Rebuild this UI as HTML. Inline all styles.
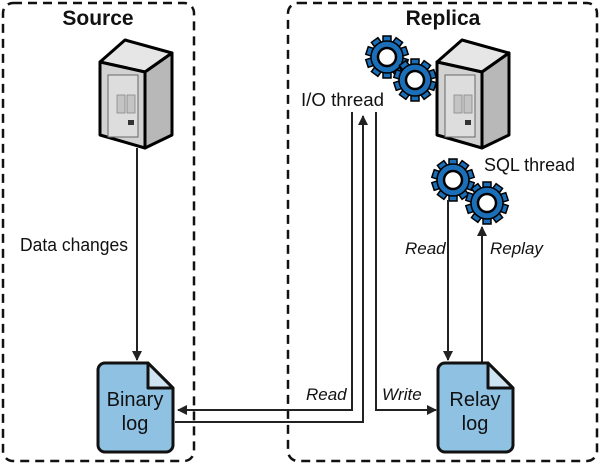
<!DOCTYPE html>
<html><head><meta charset="utf-8"><style>
html,body{margin:0;padding:0;background:#fff;}
svg{display:block;}
text{font-family:"Liberation Sans Narrow","Liberation Sans",sans-serif;fill:#111;}
</style></head><body>
<svg width="600" height="465" viewBox="0 0 600 465" xmlns="http://www.w3.org/2000/svg">
<defs>
<marker id="ah" markerWidth="10" markerHeight="10" refX="9" refY="5" orient="auto" markerUnits="userSpaceOnUse">
<path d="M0,0 L10,5 L0,10 Z" fill="#222"/></marker>
<g id="gear">
<g fill="#1a6fb8" stroke="#000" stroke-width="1.5">
<rect x="-4" y="-21" width="8" height="9"/><rect x="-4" y="-21" width="8" height="9" transform="rotate(36)"/>
<rect x="-4" y="-21" width="8" height="9" transform="rotate(72)"/><rect x="-4" y="-21" width="8" height="9" transform="rotate(108)"/>
<rect x="-4" y="-21" width="8" height="9" transform="rotate(144)"/><rect x="-4" y="-21" width="8" height="9" transform="rotate(180)"/>
<rect x="-4" y="-21" width="8" height="9" transform="rotate(216)"/><rect x="-4" y="-21" width="8" height="9" transform="rotate(252)"/>
<rect x="-4" y="-21" width="8" height="9" transform="rotate(288)"/><rect x="-4" y="-21" width="8" height="9" transform="rotate(324)"/>
</g>
<circle r="16" fill="#1a6fb8" stroke="#000" stroke-width="1.5"/>
<circle r="9" fill="#fff" stroke="#000" stroke-width="2.5"/>
</g>
<g id="server">
<polygon points="0,22 25,0 72,13 45,32" fill="#e6e6e6" stroke="#000" stroke-width="3" stroke-linejoin="round"/>
<polygon points="45,32 72,13 72,95 45,108" fill="#b8b8b8" stroke="#000" stroke-width="3" stroke-linejoin="round"/>
<polygon points="0,22 45,32 45,108 0,95" fill="#d2d2d2" stroke="#000" stroke-width="3" stroke-linejoin="round"/>
<rect x="8" y="35" width="30" height="62" fill="#ddd" stroke="#666" stroke-width="1"/>
<rect x="17" y="55" width="8" height="18" fill="#c4c4c4" stroke="#888" stroke-width="0.8"/>
<rect x="27" y="55" width="8" height="18" fill="#c4c4c4" stroke="#888" stroke-width="0.8"/>
<rect x="28" y="80" width="6" height="5" fill="#333"/>
</g>
</defs>
<rect x="3" y="3" width="191" height="458" rx="10" fill="none" stroke="#111" stroke-width="2.5" stroke-dasharray="9,6"/>
<rect x="288" y="3" width="309" height="458" rx="10" fill="none" stroke="#111" stroke-width="2.5" stroke-dasharray="9,6"/>
<text x="98" y="25" font-size="21" text-anchor="middle" font-weight="bold">Source</text>
<text x="443" y="25" font-size="21" text-anchor="middle" font-weight="bold">Replica</text>
<use href="#server" x="100" y="40"/>
<use href="#server" x="437" y="40"/>
<use href="#gear" x="387" y="57"/>
<use href="#gear" x="415" y="80"/>
<use href="#gear" x="453" y="180"/>
<use href="#gear" x="487" y="203"/>
<text x="301" y="106" font-size="18" textLength="83" lengthAdjust="spacingAndGlyphs">I/O thread</text>
<text x="484" y="171" font-size="18" textLength="91" lengthAdjust="spacingAndGlyphs">SQL thread</text>
<text x="20" y="251" font-size="18" textLength="108" lengthAdjust="spacingAndGlyphs">Data changes</text>
<g stroke="#222" stroke-width="2" fill="none">
<line x1="137" y1="148" x2="137" y2="360" marker-end="url(#ah)"/>
<polyline points="352,112 352,410 178,410" marker-end="url(#ah)"/>
<polyline points="175,422 363,422 363,116" marker-end="url(#ah)"/>
<polyline points="376,112 376,410 436,410" marker-end="url(#ah)"/>
<line x1="448" y1="200" x2="448" y2="360" marker-end="url(#ah)"/>
<line x1="482" y1="363" x2="482" y2="227" marker-end="url(#ah)"/>
</g>
<text x="306" y="400" font-size="17" font-style="italic">Read</text>
<text x="382" y="400" font-size="17" font-style="italic">Write</text>
<text x="405" y="254" font-size="17" font-style="italic">Read</text>
<text x="490" y="254" font-size="17" font-style="italic">Replay</text>
<g stroke="#111" stroke-width="3" stroke-linejoin="round">
<path d="M98,370 a7,7 0 0 1 7,-7 H148 L173,388 V445 a7,7 0 0 1 -7,7 H105 a7,7 0 0 1 -7,-7 Z" fill="#8fc1e3"/>
<path d="M148,363 V388 H173 Z" fill="#cfe4f3"/>
<path d="M438,370 a7,7 0 0 1 7,-7 H488 L513,388 V445 a7,7 0 0 1 -7,7 H445 a7,7 0 0 1 -7,-7 Z" fill="#8fc1e3"/>
<path d="M488,363 V388 H513 Z" fill="#cfe4f3"/>
</g>
<text x="135" y="406" font-size="20" text-anchor="middle">Binary</text>
<text x="135" y="430" font-size="20" text-anchor="middle">log</text>
<text x="475" y="406" font-size="20" text-anchor="middle">Relay</text>
<text x="475" y="430" font-size="20" text-anchor="middle">log</text>
</svg>
</body></html>
